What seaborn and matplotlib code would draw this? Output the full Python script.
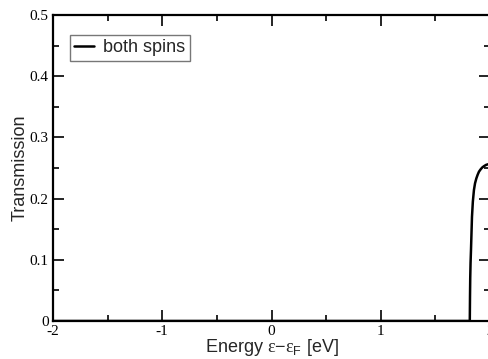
import matplotlib
matplotlib.use("Agg")
import matplotlib.pyplot as plt
from matplotlib.ticker import MultipleLocator
import pandas as pd
import seaborn as sns

# Transmission spectrum (both spin channels) vs. energy relative to the Fermi level
energy = [-2.0, 1.815, 1.817, 1.819, 1.822, 1.826, 1.830, 1.835, 1.843,
          1.853, 1.863, 1.875, 1.887, 1.899, 1.915, 1.930, 1.945, 1.963, 1.980, 2.0]
transmission = [0.0, 0.0, 0.040, 0.070, 0.095, 0.116, 0.140, 0.170, 0.195,
                0.214, 0.225, 0.233, 0.239, 0.244, 0.248, 0.251, 0.253, 0.255, 0.256, 0.256]
series_label = "both spins"
xtick_values = [-2, -1, 0, 1, 2]
xtick_labels = ["-2", "-1", "0", "1", "2"]
ytick_values = [0, 0.1, 0.2, 0.3, 0.4, 0.5]
ytick_labels = ["0", "0.1", "0.2", "0.3", "0.4", "0.5"]

df = pd.DataFrame({"energy": energy, "transmission": transmission, "series": series_label})

sns.set_theme(style="ticks")
plt.rcParams["font.family"] = ["Liberation Sans", "DejaVu Sans"]
plt.rcParams["mathtext.fontset"] = "custom"
plt.rcParams["mathtext.rm"] = "Liberation Serif"
plt.rcParams["mathtext.sf"] = "Liberation Sans"

fig = plt.figure(figsize=(4.89, 3.59), dpi=100)
ax = fig.add_axes([53 / 489, 1 - 321 / 359, (490 - 53) / 489, (321 - 15) / 359])

sns.lineplot(data=df, x="energy", y="transmission", hue="series",
             palette=["black"], linewidth=1.8, ax=ax, sort=False, estimator=None)

ax.set_xlim(-2, 2)
ax.set_ylim(0, 0.5)
ax.set_xticks(xtick_values)
ax.set_xticklabels(xtick_labels)
ax.set_yticks(ytick_values)
ax.set_yticklabels(ytick_labels)
ax.xaxis.set_minor_locator(MultipleLocator(0.5))
ax.yaxis.set_minor_locator(MultipleLocator(0.05))

ax.tick_params(which="both", direction="in", top=True, right=True, colors="black",
               width=1.2)
ax.tick_params(which="major", length=8, pad=3)
ax.tick_params(which="minor", length=4)
for lbl in ax.get_xticklabels() + ax.get_yticklabels():
    lbl.set_fontfamily("Liberation Serif")
    lbl.set_fontsize(11)

for sp in ax.spines.values():
    sp.set_linewidth(1.6)
    sp.set_color("black")
    sp.set_visible(True)

ax.set_xlabel("Energy $\\mathrm{ε}$−$\\mathrm{ε}_{\\mathsf{F}}$ [eV]", fontsize=13, labelpad=-1)
ax.set_ylabel("Transmission", fontsize=13, labelpad=1)

leg = ax.legend(loc="upper left", bbox_to_anchor=(0.038, 0.935), fontsize=13,
                frameon=True, fancybox=False, edgecolor="#555555",
                handlelength=1.1, handletextpad=0.5, borderpad=0.25,
                borderaxespad=0)
leg.get_frame().set_linewidth(1.0)
for h in leg.get_lines():
    h.set_linewidth(1.8)

fig.savefig("out.png", dpi=100)
